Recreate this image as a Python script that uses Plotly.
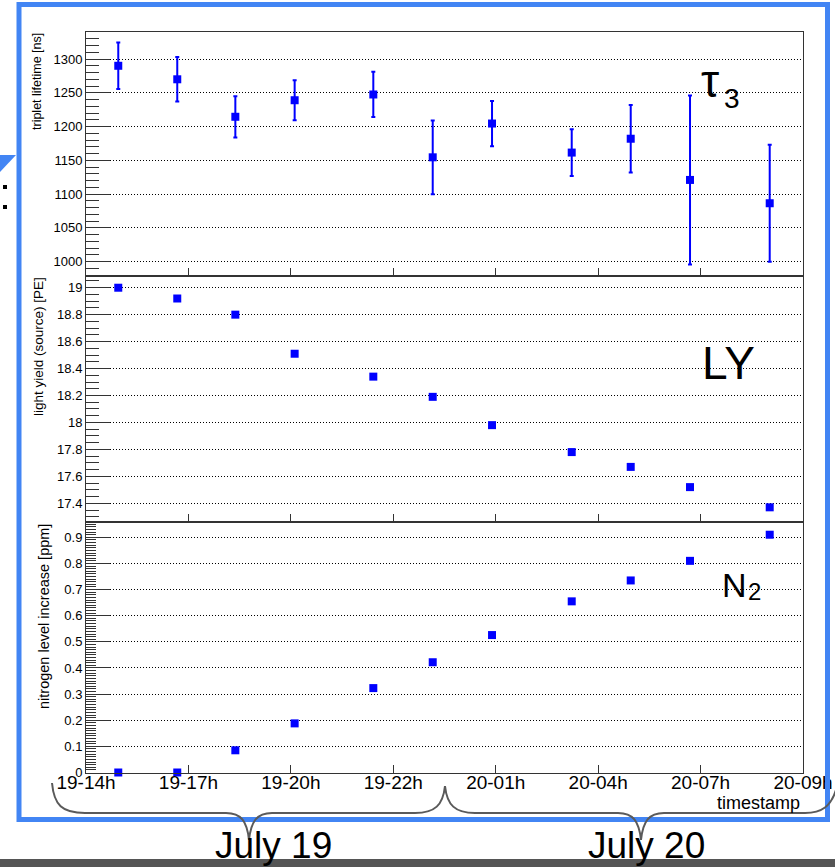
import plotly.graph_objects as go

W, H = 835, 867

# ---------------- data ----------------
tick_pos = [0, 1, 2, 3, 4, 5, 6, 7]
tick_labels = ["19-14h", "19-17h", "19-20h", "19-22h", "20-01h", "20-04h", "20-07h", "20-09h"]

x_pos = [0.315, 0.891, 1.458, 2.037, 2.805, 3.385, 3.964, 4.742, 5.318, 5.897, 6.675]
tau3 = [1290, 1270, 1214.5, 1239, 1247.5, 1154.5, 1204.5, 1161.5, 1182, 1121, 1086.5]
tau3_err = [34.5, 33, 30.5, 29.5, 33.5, 54.5, 33.5, 34.5, 50, 125, 86.5]
light_yield = [19.0, 18.92, 18.80, 18.51, 18.34, 18.19, 17.98, 17.78, 17.67, 17.52, 17.37]
n2_increase = [0.0, 0.0, 0.085, 0.188, 0.323, 0.422, 0.526, 0.655, 0.735, 0.81, 0.91]

FONT = "Liberation Sans, Arial, Helvetica, sans-serif"
BLUE = "#0000ff"


def px(x):
    return x / W


def py(y):
    return 1 - y / H


def path(pts_cmd):
    out = []
    for item in pts_cmd:
        if isinstance(item, str):
            out.append(item)
        else:
            out.append(f"{px(item[0]):.5f},{py(item[1]):.5f}")
    return " ".join(out)


fig = go.Figure()

marker = dict(symbol="square", size=8, color=BLUE)
fig.add_trace(go.Scatter(x=x_pos, y=tau3, mode="markers", marker=marker,
                         error_y=dict(type="data", array=tau3_err, color=BLUE, thickness=2, width=2),
                         xaxis="x", yaxis="y", showlegend=False))
fig.add_trace(go.Scatter(x=x_pos, y=light_yield, mode="markers", marker=marker,
                         xaxis="x2", yaxis="y2", showlegend=False))
fig.add_trace(go.Scatter(x=x_pos, y=n2_increase, mode="markers", marker=marker,
                         xaxis="x3", yaxis="y3", showlegend=False, cliponaxis=False))

xdom = [px(86), px(803)]
frame_col = "#333333"


def xaxis(anchor, labels):
    d = dict(domain=xdom, range=[0, 7], anchor=anchor, tickmode="array", tickvals=tick_pos,
             ticks="inside", ticklen=8, tickcolor=frame_col, showline=True, mirror=True,
             linecolor=frame_col, linewidth=1, showgrid=False, zeroline=False,
             showticklabels=labels)
    if labels:
        d.update(ticktext=tick_labels, tickfont=dict(size=19, color="black", family=FONT),
                 ticklabelstandoff=-7)
    return d


def yaxis(anchor, top, bottom, rng, dtick, tick0, mdtick, mlen):
    return dict(domain=[py(bottom), py(top)], range=rng, anchor=anchor, dtick=dtick, tick0=tick0,
                ticks="inside", ticklen=24, tickcolor=frame_col, showline=True, mirror=True,
                linecolor=frame_col, linewidth=1, zeroline=False,
                showgrid=True, gridcolor="black", gridwidth=1, griddash="1px,2px",
                tickfont=dict(size=13, color="black", family=FONT),
                minor=dict(ticks="inside", ticklen=mlen, dtick=mdtick, tick0=tick0,
                           tickcolor=frame_col, showgrid=False))


shapes = []
# blue callout triangle and dots at far left
shapes.append(dict(type="path", xref="paper", yref="paper",
                   path=path(["M", (0, 155), "L", (16, 155), "L", (0, 172), "Z"]),
                   fillcolor="#4285F4", line=dict(width=0), layer="above"))
for yy in (185, 205):
    shapes.append(dict(type="rect", xref="paper", yref="paper", x0=px(3), x1=px(7),
                       y0=py(yy + 4), y1=py(yy), fillcolor="black", line=dict(width=0)))
# blue border
shapes.append(dict(type="rect", xref="paper", yref="paper", x0=px(19), x1=px(827.5),
                   y0=py(819.5), y1=py(4.5), line=dict(color="#4285F4", width=5),
                   fillcolor="rgba(0,0,0,0)", layer="above"))
# braces
brace1 = ["M", (52, 783), "C", (54, 805), (62, 813), (85, 813), "L", (226, 813),
          "C", (241, 813), (247, 821), (249, 840), "C", (251, 821), (257, 813), (272, 813),
          "L", (415, 813), "C", (435, 813), (443, 805), (445, 786)]
brace2 = ["M", (445, 786), "C", (447, 805), (455, 813), (475, 813), "L", (618, 813),
          "C", (633, 813), (639, 821), (641, 840), "C", (643, 821), (649, 813), (664, 813),
          "L", (805, 813), "C", (822, 813), (831, 806), (836, 790)]
for b in (brace1, brace2):
    shapes.append(dict(type="path", xref="paper", yref="paper", path=path(b),
                       line=dict(color="#5a5a5a", width=2), layer="above"))
# grey bar at bottom
shapes.append(dict(type="rect", xref="paper", yref="paper", x0=0, x1=1, y0=0, y1=py(859),
                   fillcolor="#555555", line=dict(width=0), layer="above"))


def ann(text, x, y, size, xanchor="left", yanchor="middle", angle=0):
    return dict(text=text, xref="paper", yref="paper", x=px(x), y=py(y), showarrow=False,
                xanchor=xanchor, yanchor=yanchor, textangle=angle,
                font=dict(size=size, color="black", family=FONT))


annotations = [
    ann("triplet lifetime [ns]", 37.5, 81.5, 12.5, "center", "middle", -90),
    ann("light yield (source) [PE]", 38.5, 346.5, 13.5, "center", "middle", -90),
    ann("nitrogen level increase [ppm]", 44, 617, 14.5, "center", "middle", -90),
    ann("timestamp", 802, 803, 18, "right", "middle"),
    ann("τ", 699, 80.8, 46),
    ann("3", 722, 98.3, 28),
    ann("LY", 700, 363.4, 46),
    ann("N", 720, 584.5, 34),
    ann("2", 745.5, 591.7, 24),
    ann("July 19", 273.5, 845, 37, "center", "middle"),
    ann("July 20", 646.5, 845, 37, "center", "middle"),
]

fig.update_layout(
    width=W, height=H, margin=dict(l=0, r=0, t=0, b=0, pad=0),
    template="none", paper_bgcolor="white", plot_bgcolor="white",
    font=dict(family=FONT, color="black"),
    showlegend=False,
    xaxis=xaxis("y", False),
    xaxis2=xaxis("y2", False),
    xaxis3=xaxis("y3", True),
    yaxis=yaxis("x", 32, 276, [978.8, 1340], 50, 1000, 10, 13),
    yaxis2=yaxis("x2", 276, 522, [17.261, 19.087], 0.2, 17.4, 0.05, 13),
    yaxis3=yaxis("x3", 522, 772.5, [0, 0.9587], 0.1, 0, 0.01, 10),
    shapes=shapes,
    annotations=annotations,
)

fig.write_html("out.html")
